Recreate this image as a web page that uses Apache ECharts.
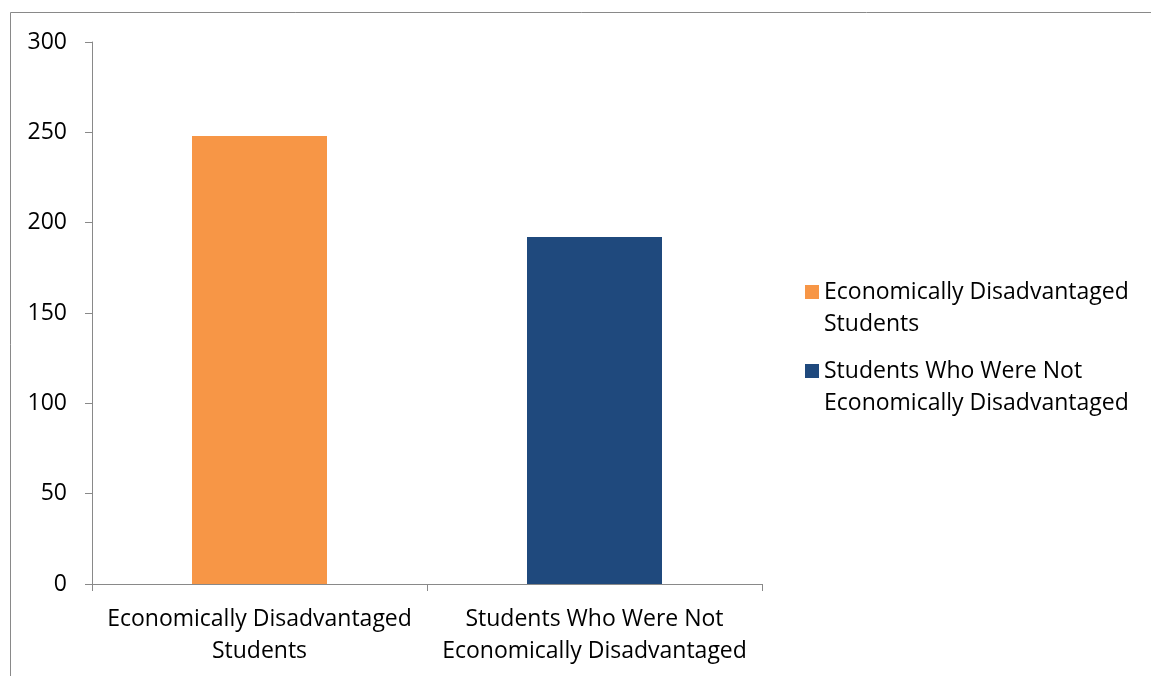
<!DOCTYPE html>
<html>
<head>
<meta charset="utf-8">
<style>
  html, body { margin: 0; padding: 0; background: #fff; }
  #chart { width: 1151px; height: 676px; }
</style>
<script src="https://cdn.jsdelivr.net/npm/echarts@6/dist/echarts.min.js"></script>
</head>
<body>
<div id="chart"></div>
<script>
// Chart data
var categories = ['Economically Disadvantaged\nStudents', 'Students Who Were Not\nEconomically Disadvantaged'];
var seriesNames = ['Economically Disadvantaged Students', 'Students Who Were Not Economically Disadvantaged'];
var legendLabels = ['Economically Disadvantaged\nStudents', 'Students Who Were Not\nEconomically Disadvantaged'];
var values = [248, 192];
var colors = ['#F79646', '#1F497D'];

var FONT = '"Open Sans", sans-serif';
var FONT_SIZE = 23;
var AXIS_COLOR = '#898989';

var chart = echarts.init(document.getElementById('chart'));

// one series per category so the legend shows both
var series = seriesNames.map(function(name, i) {
    var data = values.map(function(v, j) { return j === i ? v : '-'; });
    return {
        name: name,
        type: 'bar',
        stack: 'all',
        barWidth: 135,
        itemStyle: { color: colors[i] },
        data: data
    };
});

chart.setOption({
    animation: false,
    textStyle: { fontFamily: FONT },
    grid: { left: 92, right: 389, top: 42, bottom: 92, containLabel: false },
    graphic: [{
        type: 'rect',
        shape: { x: 10.5, y: 12.5, width: 1200, height: 700 },
        style: { fill: 'none', stroke: AXIS_COLOR, lineWidth: 1 },
        silent: true
    }],
    legend: {
        orient: 'vertical',
        left: 805,
        top: 244,
        padding: 0,
        itemWidth: 14,
        itemHeight: 14,
        itemGap: -17,
        icon: 'rect',
        // empty first line keeps the marker beside the first text line
        formatter: function(name) {
            return '\u00a0\n' + legendLabels[seriesNames.indexOf(name)];
        },
        textStyle: {
            fontFamily: FONT,
            fontSize: FONT_SIZE,
            color: '#000',
            lineHeight: 32
        },
        itemStyle: { borderWidth: 0 },
        data: seriesNames
    },
    xAxis: {
        type: 'category',
        data: categories,
        axisLine: { lineStyle: { color: AXIS_COLOR, width: 1 } },
        axisTick: { show: true, length: 7, lineStyle: { color: AXIS_COLOR } },
        axisLabel: {
            interval: 0,
            color: '#000',
            fontSize: FONT_SIZE,
            lineHeight: 32,
            margin: 19,
            fontFamily: FONT
        }
    },
    yAxis: {
        type: 'value',
        min: 0,
        max: 300,
        interval: 50,
        axisLine: { show: true, lineStyle: { color: AXIS_COLOR, width: 1 } },
        axisTick: { show: true, length: 7, lineStyle: { color: AXIS_COLOR } },
        splitLine: { show: false },
        axisLabel: {
            color: '#000',
            fontSize: FONT_SIZE,
            margin: 25,
            fontFamily: FONT
        }
    },
    series: series
});
</script>
</body>
</html>
